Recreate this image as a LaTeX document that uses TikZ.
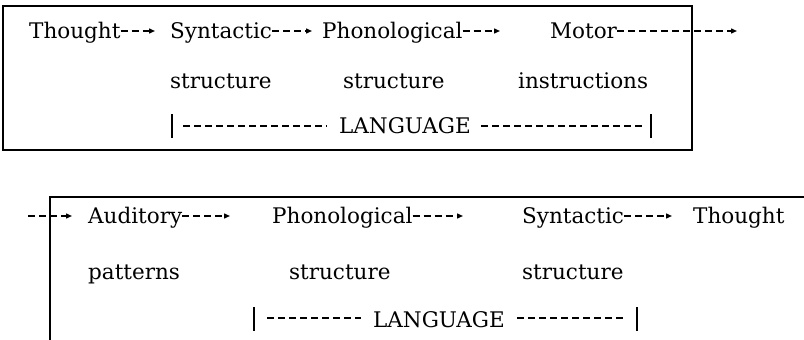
\documentclass[tikz,border=0pt]{standalone}
\usepackage{fontspec}
\setmainfont{DejaVu Serif}
\usetikzlibrary{arrows.meta}
\begin{document}
\begin{tikzpicture}[x=1pt,y=-1pt,
  word/.style={anchor=base west,inner sep=0pt,font=\fontsize{21.5}{24}\selectfont},
  lang/.style={anchor=base,inner sep=0pt,font=\fontsize{21.5}{24}\selectfont},
  darr/.style={line width=1.4pt,dash pattern=on 7pt off 4pt,-{Triangle[length=6pt,width=5pt]}},
  dline/.style={line width=1.4pt,dash pattern=on 7pt off 4pt},
  bar/.style={line width=1.7pt},
  frame/.style={line width=1.5pt}]
\useasboundingbox (0,0) rectangle (804,340);
% top box
\draw[frame] (3,6) rectangle (692,150);
\node[word] (thoughtA) at (29,38) {Thought};
\node[word] (synA) at (170,38) {Syntactic};
\node[word] (phonA) at (322,38) {Phonological};
\node[word] (motor) at (550,38) {Motor};
\node[word] (structA1) at (170,88) {structure};
\node[word] (structA2) at (343,88) {structure};
\node[word] (instr) at (518,88) {instructions};
\node[lang] (langA) at (405,133) {LANGUAGE};
\coordinate (tA1) at (155,31);
\coordinate (tA2) at (312,31);
\coordinate (tA3) at (500,31);
\coordinate (tA4) at (737,31);
\draw[darr] (thoughtA.east |- tA1) -- (tA1);
\draw[darr] (synA.east |- tA2) -- (tA2);
\draw[darr] (phonA.east |- tA3) -- (tA3);
\draw[darr] (motor.east |- tA4) -- (tA4);
\coordinate (barA1) at (172,114);
\coordinate (barA2) at (651,114);
\draw[bar] (barA1) -- ++(0,24);
\draw[bar] (barA2) -- ++(0,24);
\draw[dline] ([xshift=11pt]barA1 |- 0,126) -- ([xshift=-12pt]langA.west |- 0,126);
\draw[dline] ([xshift=10pt]langA.east |- 0,126) -- ([xshift=-9pt]barA2 |- 0,126);
% bottom frame
\draw[frame] (804,197) -- (50,197) -- (50,340);
\coordinate (sB) at (28,216);
\coordinate (tB1) at (72,216);
\node[word] (aud) at (88,223) {Auditory};
\node[word] (phonB) at (272,223) {Phonological};
\node[word] (synB) at (522,223) {Syntactic};
\node[word] (thoughtB) at (693,223) {Thought};
\node[word] (patt) at (88,279) {patterns};
\node[word] (structB1) at (289,279) {structure};
\node[word] (structB2) at (522,279) {structure};
\node[lang] (langB) at (439,327) {LANGUAGE};
\coordinate (tB2) at (230,216);
\coordinate (tB3) at (463,216);
\coordinate (tB4) at (672,216);
\draw[darr] (sB) -- (tB1);
\draw[darr] (aud.east |- tB2) -- (tB2);
\draw[darr] (phonB.east |- tB3) -- (tB3);
\draw[darr] (synB.east |- tB4) -- (tB4);
\coordinate (barB1) at (254,307);
\coordinate (barB2) at (637,307);
\draw[bar] (barB1) -- ++(0,24);
\draw[bar] (barB2) -- ++(0,24);
\draw[dline] ([xshift=13pt]barB1 |- 0,318) -- ([xshift=-12pt]langB.west |- 0,318);
\draw[dline] ([xshift=12pt]langB.east |- 0,318) -- ([xshift=-12pt]barB2 |- 0,318);
\end{tikzpicture}
\end{document}
